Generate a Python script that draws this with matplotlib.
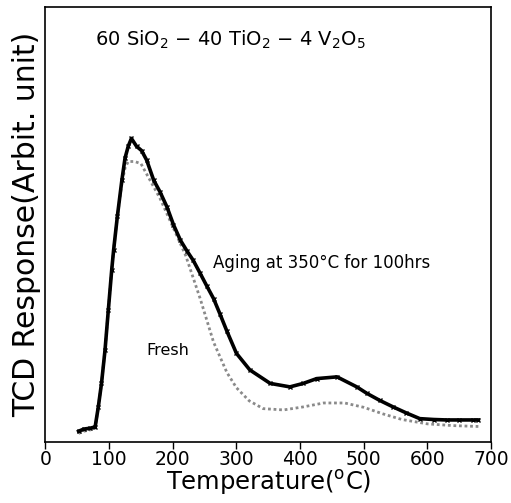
"""
TPD (TCD response) curves for 60 SiO2 - 40 TiO2 - 4 V2O5: fresh vs aged catalyst.
"""
import matplotlib
matplotlib.use("Agg")
import matplotlib.pyplot as plt

# values (response in arbitrary units, 0-100 scale)
aged_temp = [52, 60, 70, 78, 83, 88, 93.5, 98.7, 104, 107, 113, 120, 125, 130,
             135, 143, 151, 159, 170, 180, 191, 201, 212, 222, 232, 243, 253,
             264, 274, 285, 300, 321, 353, 384, 405, 426, 458, 489, 505, 525,
             546, 567, 588, 610, 630, 650, 672, 680]
aged_resp = [2.5, 3.0, 3.2, 3.5, 8.1, 13.5, 21.1, 30.3, 39.5, 44.1, 52.0, 60.2,
             65.3, 68.0, 69.8, 68.0, 67.0, 64.8, 60.2, 57.5, 54.0, 50.0, 46.4,
             44.0, 41.8, 38.8, 36.0, 33.0, 29.5, 25.5, 20.4, 16.6, 13.5, 12.7,
             13.5, 14.6, 15.0, 12.7, 11.2, 9.6, 8.1, 6.7, 5.4, 5.2, 5.1, 5.1,
             5.1, 5.1]

fresh_temp = [52, 60, 70, 78, 83, 88, 93.5, 98.7, 104, 107, 113, 120, 125, 130,
              140, 150, 165, 180, 200, 220, 243, 264, 285, 300, 320, 342, 374,
              405, 437, 470, 500, 530, 560, 600, 640, 680]
fresh_resp = [2.0, 2.5, 2.8, 3.2, 8.1, 13.5, 21.1, 30.3, 39.5, 44.1, 52.0, 59.5,
              63.0, 64.5, 64.5, 64.0, 60.0, 56.0, 49.5, 43.0, 33.0, 23.0, 16.0,
              12.5, 9.5, 7.7, 7.4, 8.1, 9.0, 9.0, 8.0, 6.5, 5.2, 4.2, 3.8, 3.6]

x_ticks = [0, 100, 200, 300, 400, 500, 600, 700]


def main() -> None:
    fig = plt.figure(figsize=(5.11, 5.03), dpi=100)
    ax = fig.add_axes([0.089, 0.121, 0.872, 0.865])

    ax.plot(fresh_temp, fresh_resp, color="#8a8a8a", lw=2.0, ls=(0, (1, 1)))
    ax.plot(aged_temp, aged_resp, color="black", lw=2.6, marker="x",
            markersize=3.5, markeredgewidth=1)

    ax.set_xlim(0, 700)
    ax.set_ylim(0, 100)
    ax.set_xticks(x_ticks)
    ax.set_yticks([])
    ax.tick_params(axis="x", direction="out", length=5, width=1,
                   labelsize=13.5, pad=1)
    for s in ax.spines.values():
        s.set_linewidth(1.2)

    ax.set_xlabel(r"Temperature($^{\rm o}$C)", fontsize=17.5, labelpad=-1)
    ax.set_ylabel("TCD Response(Arbit. unit)", fontsize=21.5, labelpad=3)

    ax.text(78, 92.4, r"60 SiO$_2$ $-$ 40 TiO$_2$ $-$ 4 V$_2$O$_5$",
            fontsize=14, va="center", ha="left")
    ax.text(263, 41.1, "Aging at 350°C for 100hrs", fontsize=12,
            va="center", ha="left")
    ax.text(158, 21.1, "Fresh", fontsize=11.5, va="center", ha="left")

    fig.savefig("out.png", dpi=100)
    plt.close(fig)


if __name__ == "__main__":
    main()
